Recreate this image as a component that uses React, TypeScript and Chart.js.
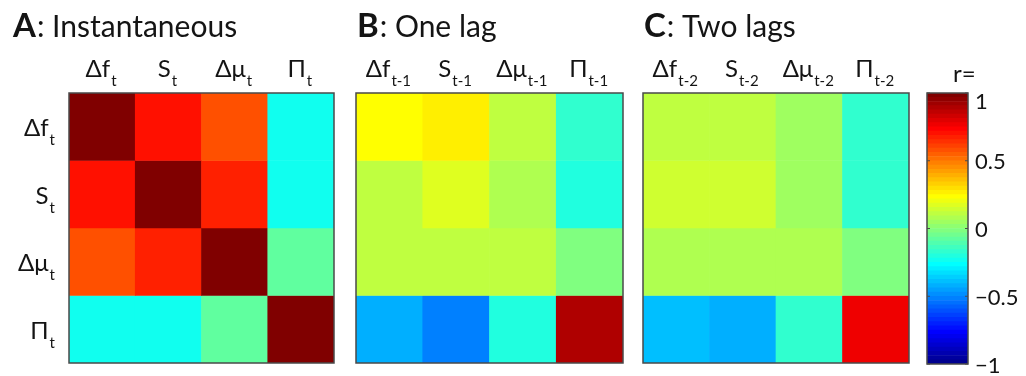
import React, { useEffect, useRef } from "react";
import { Chart, registerables } from "chart.js";

Chart.register(...registerables);

// Variable names (main glyphs) and their time subscripts
const varNames = ["Δf", "S", "Δμ", "Π"];
const subsInstant = ["t", "t", "t", "t"];
const subsOneLag = ["t-1", "t-1", "t-1", "t-1"];
const subsTwoLags = ["t-2", "t-2", "t-2", "t-2"];

// Correlation matrices (rows: variables at time t, columns: variables at t, t-1, t-2)
const instantaneous = [
  [1.0, 0.7, 0.58, -0.23],
  [0.7, 1.0, 0.67, -0.23],
  [0.58, 0.67, 1.0, -0.07],
  [-0.23, -0.23, -0.07, 1.0],
];
const oneLag = [
  [0.23, 0.27, 0.11, -0.17],
  [0.11, 0.17, 0.08, -0.2],
  [0.11, 0.11, 0.11, -0.02],
  [-0.42, -0.51, -0.2, 0.89],
];
const twoLags = [
  [0.11, 0.11, 0.05, -0.17],
  [0.14, 0.14, 0.05, -0.17],
  [0.09, 0.09, 0.09, -0.02],
  [-0.39, -0.42, -0.17, 0.76],
];

// Colour bar ticks
const cbarTicks = [-1, -0.5, 0, 0.5, 1];
const cbarTickLabels = ["−1", "−0.5", "0", "0.5", "1"];

const FONT = "Lato, 'Open Sans', sans-serif";
const INK = "#141414";
const FRAME = "#4a4a4a";

// MATLAB-style 64-level jet colormap
function buildJet(n = 64): number[][] {
  const m = Math.ceil(n / 4);
  const u: number[] = [];
  for (let i = 1; i <= m; i++) u.push(i / m);
  for (let i = 1; i < m; i++) u.push(1);
  for (let i = m; i >= 1; i--) u.push(i / m);
  const g0 = Math.ceil(m / 2) - (n % 4 === 1 ? 1 : 0);
  const map = Array.from({ length: n }, () => [0, 0, 0]);
  for (let k = 0; k < u.length; k++) {
    const gi = g0 + k + 1;
    const ri = gi + m;
    const bi = gi - m;
    if (ri >= 1 && ri <= n) map[ri - 1][0] = u[k];
    if (gi >= 1 && gi <= n) map[gi - 1][1] = u[k];
    if (bi >= 1 && bi <= n) map[bi - 1][2] = u[k];
  }
  return map;
}
const JET = buildJet(64);

function rgb(c: number[]) {
  return `rgb(${Math.round(c[0] * 255)},${Math.round(c[1] * 255)},${Math.round(c[2] * 255)})`;
}
function jetColor(v: number) {
  const idx = Math.max(0, Math.min(63, Math.floor(((v + 1) / 2) * 64)));
  return rgb(JET[idx]);
}

// Main text followed by a lowered subscript; (x, y) anchor depends on align
function subText(
  ctx: CanvasRenderingContext2D,
  main: string,
  sub: string,
  x: number,
  y: number,
  align: "center" | "right",
  mainSize: number,
  subSize: number,
  subDrop: number
) {
  ctx.save();
  ctx.fillStyle = INK;
  ctx.textBaseline = "alphabetic";
  ctx.textAlign = "left";
  ctx.font = `${mainSize}px ${FONT}`;
  const wm = ctx.measureText(main).width;
  ctx.font = `${subSize}px ${FONT}`;
  const ws = ctx.measureText(sub).width;
  const gap = 1;
  const total = wm + gap + ws;
  const x0 = align === "center" ? x - total / 2 : x - total;
  ctx.font = `${mainSize}px ${FONT}`;
  ctx.fillText(main, x0, y);
  ctx.font = `${subSize}px ${FONT}`;
  ctx.fillText(sub, x0 + wm + gap, y + subDrop);
  ctx.restore();
}

type PanelProps = {
  letter: string;
  title: string;
  matrix: number[][];
  subs: string[];
  rowLabels: boolean;
  left: number;
  width: number;
  padLeft: number;
  padRight: number;
  titleX: number;
};

const HEIGHT = 376;
const PAD_TOP = 93;
const PAD_BOTTOM = 13;

function HeatPanel(p: PanelProps) {
  const ref = useRef<HTMLCanvasElement>(null);
  useEffect(() => {
    const canvas = ref.current;
    if (!canvas) return;
    const labels = varNames.map((n, i) => `${n} ${p.subs[i]}`);
    const labelPlugin = {
      id: "panelLabels",
      afterDraw(chart: any) {
        const ctx: CanvasRenderingContext2D = chart.ctx;
        const area = chart.chartArea;
        const xs = chart.scales.x;
        const ys = chart.scales.y;
        // Frame
        ctx.save();
        ctx.strokeStyle = FRAME;
        ctx.lineWidth = 1.5;
        ctx.strokeRect(area.left, area.top, area.right - area.left, area.bottom - area.top);
        ctx.restore();
        // Title: bold letter + regular text
        ctx.save();
        ctx.fillStyle = INK;
        ctx.textBaseline = "alphabetic";
        ctx.textAlign = "left";
        ctx.font = `bold 33px ${FONT}`;
        ctx.fillText(p.letter, p.titleX, 37);
        const wl = ctx.measureText(p.letter).width;
        ctx.font = `30px ${FONT}`;
        ctx.fillText(": " + p.title, p.titleX + wl + 1, 37);
        ctx.restore();
        // Column labels
        for (let i = 0; i < varNames.length; i++) {
          const x = xs.getPixelForValue(i);
          subText(ctx, varNames[i], p.subs[i], x - 1, 77, "center", 24, 15, 9);
        }
        // Row labels
        if (p.rowLabels) {
          for (let r = 0; r < varNames.length; r++) {
            const yc = ys.getPixelForValue(r + 0.5);
            subText(ctx, varNames[r], "t", 55, yc + 9.5, "right", 24, 15, 9);
          }
        }
      },
    };
    const chart = new Chart(canvas, {
      type: "bar",
      data: {
        labels,
        datasets: p.matrix.map((row, r) => ({
          label: varNames[r],
          data: row.map(() => 1),
          backgroundColor: row.map((v) => jetColor(v)),
          borderWidth: 0,
          barPercentage: 1,
          categoryPercentage: 1,
        })),
      },
      options: {
        animation: false,
        responsive: false,
        events: [],
        layout: {
          padding: { left: p.padLeft, right: p.padRight, top: PAD_TOP, bottom: PAD_BOTTOM },
        },
        scales: {
          x: { stacked: true, display: false },
          y: { stacked: true, display: false, reverse: true, min: 0, max: 4 },
        },
        plugins: { legend: { display: false }, tooltip: { enabled: false } },
      },
      plugins: [labelPlugin],
    });
    return () => chart.destroy();
  }, []);
  return (
    <canvas
      ref={ref}
      width={p.width}
      height={HEIGHT}
      style={{ position: "absolute", left: p.left, top: 0, width: p.width, height: HEIGHT }}
    />
  );
}

function ColorBar() {
  const ref = useRef<HTMLCanvasElement>(null);
  useEffect(() => {
    const canvas = ref.current;
    if (!canvas) return;
    const step = 2 / JET.length;
    const datasets = JET.map((c, i) => ({
      label: `level ${i}`,
      data: [[-1 + i * step, -1 + (i + 1) * step]],
      backgroundColor: rgb(c),
      borderWidth: 0,
      barPercentage: 1,
      categoryPercentage: 1,
      grouped: false,
    }));
    const cbarPlugin = {
      id: "cbarDecor",
      afterDraw(chart: any) {
        const ctx: CanvasRenderingContext2D = chart.ctx;
        const area = chart.chartArea;
        const ys = chart.scales.y;
        ctx.save();
        ctx.strokeStyle = FRAME;
        ctx.lineWidth = 1.5;
        ctx.strokeRect(area.left, area.top, area.right - area.left, area.bottom - area.top);
        ctx.lineWidth = 1;
        ctx.fillStyle = INK;
        ctx.font = `22px ${FONT}`;
        ctx.textAlign = "left";
        ctx.textBaseline = "middle";
        cbarTicks.forEach((t, i) => {
          const y = ys.getPixelForValue(t);
          ctx.beginPath();
          ctx.moveTo(area.left, y);
          ctx.lineTo(area.left + 3, y);
          ctx.moveTo(area.right, y);
          ctx.lineTo(area.right - 3, y);
          ctx.stroke();
          const ly = Math.max(area.top + 9, y + 1.5);
          ctx.fillText(cbarTickLabels[i], area.right + 7, ly);
        });
        ctx.textBaseline = "alphabetic";
        ctx.font = `24px ${FONT}`;
        ctx.fillText("r=", 35, 82);
        ctx.restore();
      },
    };
    const chart = new Chart(canvas, {
      type: "bar",
      data: { labels: ["r"], datasets },
      options: {
        animation: false,
        responsive: false,
        events: [],
        layout: { padding: { left: 9, right: 58, top: 93, bottom: 12 } },
        scales: {
          x: { display: false },
          y: { display: false, min: -1, max: 1 },
        },
        plugins: { legend: { display: false }, tooltip: { enabled: false } },
      },
      plugins: [cbarPlugin],
    });
    return () => chart.destroy();
  }, []);
  return (
    <canvas
      ref={ref}
      width={108}
      height={HEIGHT}
      style={{ position: "absolute", left: 918, top: 0, width: 108, height: HEIGHT }}
    />
  );
}

export default function App() {
  return (
    <div
      style={{
        position: "absolute",
        left: 0,
        top: 0,
        width: 1026,
        height: HEIGHT,
        background: "#ffffff",
        overflow: "hidden",
      }}
    >
      <HeatPanel
        letter="A"
        title="Instantaneous"
        matrix={instantaneous}
        subs={subsInstant}
        rowLabels={true}
        left={0}
        width={345}
        padLeft={69}
        padRight={11}
        titleX={13}
      />
      <HeatPanel
        letter="B"
        title="One lag"
        matrix={oneLag}
        subs={subsOneLag}
        rowLabels={false}
        left={345}
        width={287}
        padLeft={11}
        padRight={9}
        titleX={12}
      />
      <HeatPanel
        letter="C"
        title="Two lags"
        matrix={twoLags}
        subs={subsTwoLags}
        rowLabels={false}
        left={632}
        width={286}
        padLeft={11}
        padRight={9}
        titleX={12}
      />
      <ColorBar />
    </div>
  );
}
